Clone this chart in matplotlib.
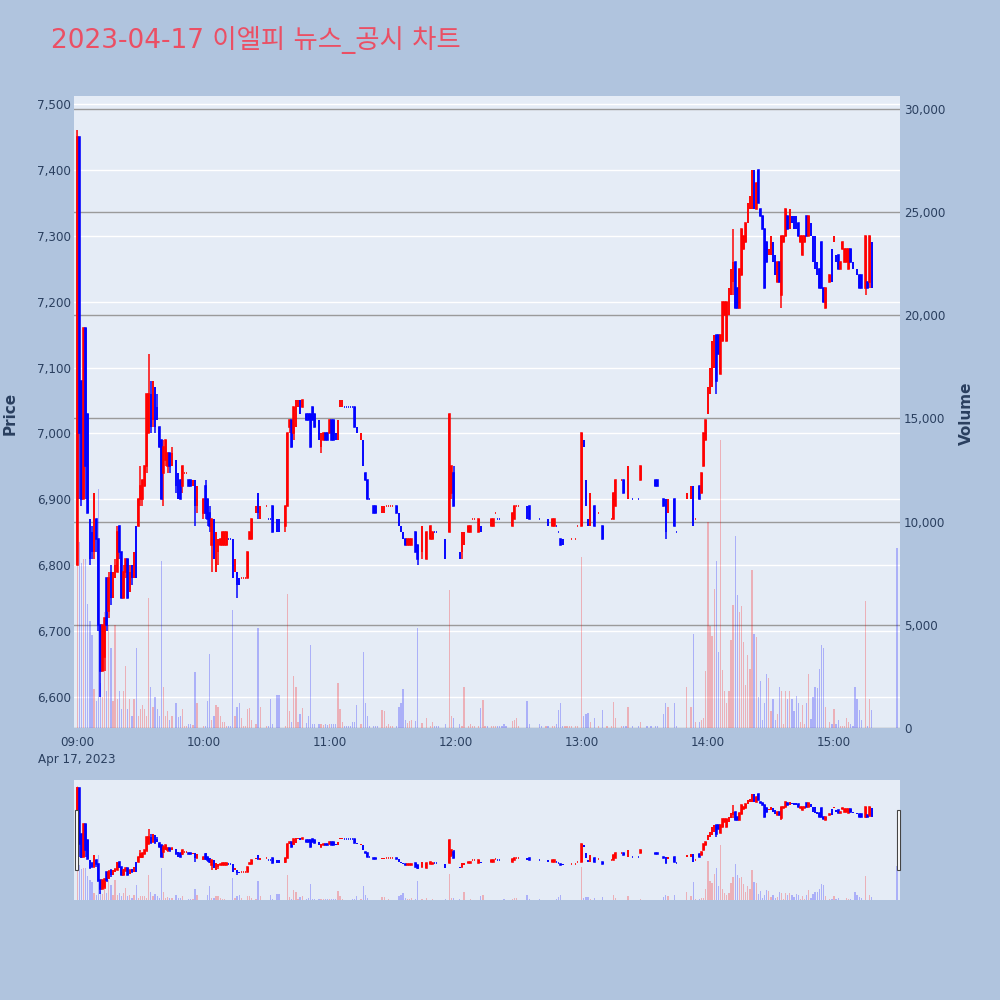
"""Intraday 1-minute candles + volume for 이엘피 on 2023-04-17, plotly-like look."""

import matplotlib
matplotlib.use("Agg")
import matplotlib.pyplot as plt  # noqa: E402
from matplotlib.patches import Rectangle  # noqa: E402
from matplotlib.ticker import FuncFormatter  # noqa: E402

TITLE = "2023-04-17 이엘피 뉴스_공시 차트"

# minutes after 09:00 that had trades
MINUTE = [
    0, 1, 2, 3, 4, 5, 6, 7, 8, 9,
    10, 11, 12, 13, 14, 15, 16, 17, 18, 19,
    20, 21, 22, 23, 24, 25, 26, 27, 28, 29,
    30, 31, 32, 33, 34, 35, 36, 37, 38, 39,
    40, 41, 42, 43, 44, 45, 47, 48, 49,
    50, 51, 52, 53, 54, 55, 56, 57,
    60, 61, 62, 63, 64, 65, 66, 67, 68, 69,
    70, 71, 72, 73, 74, 75, 76, 77, 78, 79,
    80, 81, 82, 83, 85, 86, 87,
    90, 91, 92, 93, 95, 96, 99,
    100, 101, 102, 103, 104, 105, 106, 107,
    109, 110, 111, 112, 113, 115, 116, 117, 118, 119,
    120, 121, 122, 123, 124, 125, 126, 127, 128, 129,
    130, 131, 132, 133, 135, 136, 137, 138, 139,
    141, 142, 143, 145, 146, 147, 148, 149, 150,
    152, 153, 154, 155, 156, 157, 158, 159,
    161, 162, 164, 166, 168, 169, 170, 171, 172,
    175, 177, 178, 179, 182, 183, 184, 186, 187, 188, 189,
    191, 192, 193, 194, 195, 197, 198, 199,
    200, 201, 202, 203, 204, 207, 208, 209, 210,
    214, 215, 220, 221, 223, 224, 226, 227, 228, 229,
    230, 231, 232, 233, 234, 235, 237, 238,
    240, 241, 242, 243, 244, 246, 248,
    250, 252, 254, 255, 256, 259,
    260, 261, 262, 264, 267, 268,
    271, 273, 275, 276, 279, 280, 281, 284, 285,
    290, 292, 293, 294, 296, 297,
    298, 299, 300, 301, 302, 303, 304, 305, 306, 307, 308, 309,
    310, 311, 312, 313, 314, 315, 316, 317, 318, 319,
    320, 321, 322, 323, 324, 325, 326, 327, 328, 329,
    330, 331, 332, 333, 334, 335, 336, 337, 338, 339,
    340, 341, 342, 343, 344, 345, 346, 347, 348, 349,
    350, 351, 352, 353, 354, 355, 356, 358, 359,
    360, 361, 362, 363, 364, 365, 366, 367, 368, 369,
    370, 371, 372, 373, 375, 376, 377, 378, 390,
]

OPEN = [
    6800, 7450, 7080, 6900, 7160, 7030, 6870, 6850, 6820, 6870,
    6840, 6710, 6640, 6660, 6780, 6730, 6790, 6750, 6780, 6790,
    6860, 6820, 6750, 6790, 6810, 6760, 6800, 6780, 6860, 6860,
    6900, 6900, 6920, 6950, 7000, 7060, 7020, 7070, 7040, 7010,
    6990, 6940, 6960, 6950, 6970, 6950, 6960, 6940, 6930,
    6920, 6940, 6940, 6930, 6930, 6920, 6930, 6890,
    6880, 6920, 6900, 6880, 6830, 6870, 6790, 6820, 6830, 6830,
    6830, 6830, 6840, 6840, 6840, 6790, 6790, 6780, 6780, 6780,
    6780, 6780, 6840, 6840, 6880, 6910, 6870,
    6890, 6870, 6870, 6890, 6870, 6870, 6860,
    6890, 7010, 7020, 7000, 7010, 7040, 7050, 7040,
    7030, 7030, 7030, 7040, 7030, 7020, 6980, 6990, 7000, 7000,
    7000, 7020, 7020, 7000, 6990, 7040, 7040, 7040, 7040, 7040,
    7040, 7040, 7040, 7010, 6990, 6990, 6940, 6930, 6900,
    6890, 6890, 6870, 6880, 6880, 6890, 6890, 6890, 6890,
    6890, 6880, 6860, 6850, 6840, 6830, 6830, 6830,
    6850, 6830, 6820, 6810, 6840, 6840, 6850, 6850, 6850,
    6840, 6850, 6910, 6940, 6820, 6820, 6830, 6850, 6850, 6870, 6870,
    6850, 6860, 6870, 6870, 6850, 6860, 6860, 6880,
    6870, 6870, 6870, 6870, 6870, 6860, 6870, 6890, 6890,
    6890, 6890, 6870, 6860, 6870, 6870, 6860, 6860, 6860, 6850,
    6840, 6840, 6840, 6840, 6840, 6840, 6840, 6860,
    6860, 6990, 6930, 6870, 6860, 6890, 6880,
    6860, 6850, 6870, 6870, 6890, 6930,
    6930, 6900, 6900, 6900, 6900, 6930,
    6940, 6930, 6930, 6930, 6900, 6900, 6880, 6900, 6850,
    6900, 6900, 6920, 6870, 6920, 6910,
    6950, 6990, 7030, 7060, 7070, 7100, 7150, 7150, 7090, 7140, 7180, 7140,
    7180, 7210, 7230, 7260, 7220, 7190, 7240, 7280, 7290, 7320,
    7340, 7340, 7400, 7340, 7400, 7340, 7330, 7310, 7290, 7270,
    7270, 7290, 7270, 7230, 7260, 7210, 7290, 7300, 7330, 7310,
    7330, 7330, 7330, 7320, 7290, 7270, 7290, 7330, 7300, 7320,
    7300, 7300, 7260, 7250, 7290, 7220, 7190, 7230, 7280,
    7290, 7270, 7270, 7250, 7280, 7260, 7260, 7250, 7280, 7260,
    7250, 7250, 7240, 7240, 7220, 7230, 7230, 7290, 7220,
]

HIGH = [
    7460, 7450, 7080, 7160, 7160, 7030, 6870, 6860, 6910, 6870,
    6840, 6710, 6710, 6720, 6780, 6790, 6800, 6790, 6810, 6860,
    6860, 6820, 6800, 6810, 6810, 6800, 6800, 6820, 6860, 6900,
    6950, 6930, 6950, 7060, 7120, 7080, 7080, 7070, 7060, 7010,
    6990, 6990, 6990, 6970, 6970, 6980, 6960, 6940, 6930,
    6950, 6940, 6940, 6930, 6930, 6930, 6930, 6920,
    6900, 6930, 6900, 6890, 6870, 6870, 6850, 6840, 6840, 6850,
    6850, 6850, 6840, 6840, 6840, 6810, 6790, 6780, 6780, 6780,
    6780, 6820, 6850, 6870, 6890, 6910, 6890,
    6890, 6870, 6870, 6890, 6870, 6870, 6890,
    7000, 7020, 7020, 7040, 7050, 7050, 7050, 7050,
    7030, 7030, 7030, 7040, 7030, 7020, 7000, 7000, 7000, 7000,
    7020, 7020, 7020, 7000, 7020, 7050, 7050, 7040, 7040, 7040,
    7040, 7040, 7040, 7010, 7000, 6990, 6940, 6930, 6900,
    6890, 6890, 6870, 6890, 6890, 6890, 6890, 6890, 6890,
    6890, 6880, 6860, 6850, 6840, 6840, 6840, 6840,
    6850, 6830, 6860, 6850, 6860, 6850, 6850, 6850, 6850,
    6840, 7030, 6950, 6950, 6820, 6850, 6850, 6860, 6860, 6870, 6870,
    6870, 6860, 6870, 6870, 6850, 6870, 6870, 6880,
    6870, 6870, 6870, 6870, 6870, 6880, 6890, 6890, 6890,
    6890, 6890, 6870, 6860, 6870, 6870, 6870, 6870, 6860, 6850,
    6840, 6840, 6840, 6840, 6840, 6840, 6840, 6860,
    7000, 6990, 6930, 6870, 6910, 6890, 6880,
    6860, 6850, 6870, 6910, 6930, 6930,
    6930, 6900, 6950, 6900, 6900, 6950,
    6940, 6930, 6930, 6930, 6900, 6900, 6900, 6900, 6850,
    6910, 6920, 6920, 6870, 6920, 6940,
    7000, 7020, 7070, 7100, 7140, 7150, 7150, 7150, 7150, 7200, 7200, 7200,
    7220, 7250, 7310, 7260, 7220, 7250, 7310, 7300, 7320, 7350,
    7360, 7400, 7400, 7380, 7400, 7340, 7330, 7310, 7290, 7280,
    7300, 7290, 7270, 7260, 7260, 7300, 7300, 7340, 7330, 7340,
    7330, 7330, 7330, 7320, 7300, 7300, 7300, 7330, 7330, 7320,
    7300, 7300, 7260, 7250, 7290, 7220, 7220, 7240, 7280,
    7300, 7270, 7270, 7260, 7290, 7280, 7280, 7280, 7280, 7260,
    7250, 7250, 7240, 7240, 7300, 7230, 7300, 7290, 7220,
]

LOW = [
    6800, 6900, 6890, 6900, 6900, 6880, 6800, 6810, 6810, 6820,
    6700, 6600, 6640, 6640, 6700, 6720, 6740, 6750, 6780, 6790,
    6810, 6750, 6750, 6780, 6750, 6760, 6770, 6780, 6780, 6860,
    6890, 6890, 6920, 6940, 7000, 7000, 7010, 7000, 7020, 6980,
    6900, 6890, 6950, 6940, 6940, 6950, 6910, 6900, 6900,
    6910, 6940, 6940, 6920, 6920, 6920, 6860, 6880,
    6870, 6870, 6860, 6850, 6790, 6810, 6790, 6800, 6830, 6830,
    6830, 6830, 6840, 6840, 6780, 6790, 6750, 6770, 6780, 6780,
    6780, 6780, 6840, 6840, 6880, 6870, 6870,
    6890, 6870, 6870, 6850, 6850, 6850, 6850,
    6890, 7000, 6980, 6990, 7010, 7040, 7030, 7040,
    7020, 7020, 6980, 7020, 7010, 6990, 6970, 6990, 6990, 6990,
    7000, 6990, 6990, 6990, 6990, 7040, 7040, 7040, 7040, 7040,
    7040, 7040, 7010, 7000, 6990, 6950, 6930, 6900, 6900,
    6880, 6880, 6870, 6880, 6880, 6890, 6890, 6890, 6890,
    6880, 6860, 6850, 6840, 6830, 6830, 6830, 6830,
    6820, 6800, 6810, 6810, 6840, 6840, 6850, 6850, 6850,
    6810, 6850, 6900, 6890, 6810, 6810, 6830, 6850, 6850, 6870, 6870,
    6850, 6850, 6870, 6870, 6850, 6860, 6860, 6880,
    6870, 6870, 6870, 6870, 6870, 6860, 6870, 6890, 6890,
    6870, 6870, 6870, 6860, 6870, 6860, 6860, 6860, 6860, 6850,
    6830, 6830, 6840, 6840, 6840, 6840, 6840, 6860,
    6860, 6980, 6890, 6860, 6860, 6860, 6880,
    6840, 6850, 6870, 6870, 6890, 6930,
    6910, 6900, 6900, 6900, 6900, 6930,
    6940, 6930, 6920, 6920, 6890, 6840, 6880, 6860, 6850,
    6900, 6900, 6860, 6870, 6900, 6910,
    6950, 6990, 7030, 7060, 7070, 7100, 7060, 7120, 7090, 7140, 7180, 7140,
    7180, 7210, 7210, 7190, 7190, 7190, 7240, 7280, 7290, 7320,
    7340, 7340, 7340, 7340, 7350, 7330, 7310, 7220, 7260, 7270,
    7270, 7260, 7240, 7230, 7230, 7190, 7290, 7300, 7310, 7310,
    7320, 7310, 7310, 7300, 7290, 7270, 7290, 7300, 7300, 7300,
    7260, 7250, 7240, 7220, 7220, 7200, 7190, 7230, 7230,
    7290, 7260, 7250, 7250, 7280, 7260, 7260, 7250, 7260, 7250,
    7250, 7240, 7220, 7220, 7210, 7220, 7220, 7220, 7220,
]

CLOSE = [
    7450, 7000, 6900, 7160, 6950, 6880, 6810, 6820, 6910, 6840,
    6710, 6640, 6710, 6720, 6710, 6780, 6750, 6790, 6800, 6850,
    6820, 6750, 6790, 6810, 6750, 6790, 6780, 6820, 6780, 6900,
    6920, 6930, 6950, 7060, 7060, 7010, 7080, 7010, 7020, 6980,
    6900, 6980, 6990, 6970, 6950, 6970, 6920, 6900, 6900,
    6950, 6940, 6940, 6920, 6920, 6930, 6890, 6920,
    6900, 6880, 6870, 6860, 6870, 6810, 6850, 6840, 6840, 6850,
    6850, 6850, 6840, 6840, 6780, 6810, 6770, 6770, 6780, 6780,
    6780, 6820, 6850, 6870, 6890, 6880, 6890,
    6890, 6870, 6870, 6850, 6850, 6850, 6890,
    7000, 7020, 6980, 7040, 7050, 7050, 7030, 7050,
    7020, 7020, 6980, 7020, 7010, 6990, 7000, 7000, 6990, 6990,
    7020, 6990, 6990, 6990, 7020, 7050, 7050, 7040, 7040, 7040,
    7040, 7040, 7010, 7000, 7000, 6950, 6930, 6900, 6900,
    6880, 6880, 6870, 6890, 6890, 6890, 6890, 6890, 6890,
    6880, 6860, 6850, 6840, 6830, 6840, 6840, 6840,
    6820, 6810, 6860, 6850, 6860, 6850, 6850, 6850, 6850,
    6810, 7030, 6950, 6890, 6810, 6850, 6850, 6860, 6860, 6870, 6870,
    6870, 6850, 6870, 6870, 6850, 6870, 6870, 6880,
    6870, 6870, 6870, 6870, 6870, 6880, 6890, 6890, 6890,
    6870, 6870, 6870, 6860, 6870, 6860, 6870, 6870, 6860, 6850,
    6830, 6830, 6840, 6840, 6840, 6840, 6840, 6860,
    7000, 6980, 6890, 6860, 6910, 6860, 6880,
    6840, 6850, 6870, 6910, 6930, 6930,
    6910, 6900, 6950, 6900, 6900, 6950,
    6940, 6930, 6920, 6920, 6890, 6850, 6900, 6860, 6850,
    6910, 6920, 6860, 6870, 6900, 6940,
    7000, 7020, 7070, 7100, 7140, 7150, 7080, 7120, 7150, 7200, 7200, 7200,
    7220, 7250, 7260, 7190, 7190, 7250, 7310, 7300, 7320, 7350,
    7360, 7400, 7340, 7380, 7350, 7330, 7310, 7220, 7260, 7280,
    7300, 7260, 7240, 7260, 7230, 7300, 7300, 7340, 7310, 7340,
    7320, 7310, 7310, 7300, 7300, 7300, 7300, 7300, 7330, 7300,
    7260, 7250, 7240, 7220, 7220, 7200, 7220, 7240, 7230,
    7300, 7260, 7250, 7260, 7290, 7280, 7280, 7280, 7260, 7250,
    7250, 7240, 7220, 7220, 7300, 7220, 7300, 7220, 7220,
]

# 1 = rising candle (red), 0 = falling candle (blue)
UP = [
    1, 0, 0, 1, 0, 0, 0, 0, 1, 0,
    0, 0, 1, 1, 0, 1, 0, 1, 1, 1,
    0, 0, 1, 1, 0, 1, 0, 1, 0, 1,
    1, 1, 1, 1, 1, 0, 1, 0, 0, 0,
    0, 1, 1, 1, 0, 1, 0, 0, 0,
    1, 1, 1, 0, 0, 1, 0, 1,
    1, 0, 0, 0, 1, 0, 1, 1, 1, 1,
    1, 1, 0, 0, 0, 1, 0, 0, 1, 1,
    1, 1, 1, 1, 1, 0, 1,
    1, 0, 0, 0, 0, 0, 1,
    1, 1, 0, 1, 1, 1, 0, 1,
    0, 0, 0, 0, 0, 0, 1, 1, 0, 0,
    1, 0, 0, 0, 1, 1, 1, 0, 0, 0,
    0, 0, 0, 0, 1, 0, 0, 0, 0,
    0, 0, 0, 1, 1, 1, 1, 1, 1,
    0, 0, 0, 0, 0, 1, 1, 1,
    0, 0, 1, 1, 1, 1, 0, 0, 0,
    0, 1, 1, 0, 0, 1, 1, 1, 1, 1, 1,
    1, 0, 1, 1, 0, 1, 1, 1,
    0, 0, 0, 0, 0, 1, 1, 1, 1,
    0, 0, 0, 0, 1, 0, 1, 1, 0, 0,
    0, 0, 1, 1, 1, 1, 1, 1,
    1, 0, 0, 0, 1, 0, 1,
    0, 1, 1, 1, 1, 1,
    0, 0, 1, 0, 0, 1,
    0, 0, 0, 0, 0, 0, 1, 0, 0,
    1, 1, 0, 1, 0, 1,
    1, 1, 1, 1, 1, 1, 0, 0, 1, 1, 1, 1,
    1, 1, 1, 0, 0, 1, 1, 1, 1, 1,
    1, 1, 0, 1, 0, 0, 0, 0, 0, 1,
    1, 0, 0, 1, 0, 1, 1, 1, 0, 1,
    0, 0, 0, 0, 1, 1, 1, 0, 1, 0,
    0, 0, 0, 0, 0, 0, 1, 1, 0,
    1, 0, 0, 1, 1, 1, 1, 1, 0, 0,
    0, 0, 0, 0, 1, 0, 1, 0, 0,
]

VOLUME = [
    29000, 9000, 8000, 8200, 8200, 6000, 5200, 4500, 1900, 1300,
    11600, 2200, 1500, 5600, 1800, 5000, 3900, 1300, 5000, 1400,
    1800, 900, 1800, 3000, 900, 1400, 600, 1400, 3900, 600,
    900, 1100, 900, 600, 6300, 2000, 1000, 1500, 900, 600,
    8100, 2000, 600, 800, 400, 600, 1200, 550, 600,
    900, 100, 100, 200, 200, 150, 2700, 1200,
    100, 100, 1300, 3600, 400, 600, 1100, 1000, 600, 300,
    300, 100, 100, 100, 5700, 600, 1000, 1200, 500, 100,
    100, 900, 950, 400, 200, 4850, 1000,
    100, 100, 1400, 200, 1600, 1600, 100,
    6500, 800, 300, 2500, 2000, 300, 700, 950,
    250, 600, 4000, 200, 200, 200, 200, 150, 200, 150,
    200, 200, 200, 200, 2200, 900, 300, 100, 100, 100,
    100, 300, 300, 1100, 200, 3700, 1200, 600, 100,
    100, 100, 100, 850, 800, 100, 200, 100, 100,
    100, 1000, 1200, 1900, 400, 250, 350, 400,
    350, 4850, 250, 500, 100, 300, 100, 100, 100,
    200, 6700, 600, 500, 200, 100, 2000, 100, 200, 100, 100,
    100, 950, 1350, 100, 100, 100, 100, 100,
    100, 100, 100, 200, 100, 350, 400, 500, 100,
    1330, 200, 200, 100, 100, 100, 100, 100, 200, 850,
    1200, 100, 100, 100, 100, 100, 100, 100,
    8300, 600, 700, 750, 300, 500, 100,
    850, 100, 100, 1250, 500, 100,
    100, 100, 1000, 100, 100, 300,
    100, 100, 100, 100, 700, 1230, 1000, 1200, 100,
    1980, 1000, 4550, 300, 300, 400,
    500, 2770, 9990, 4950, 4450, 6760, 8070, 3660, 13940, 2800, 1780, 1200,
    1800, 4250, 5970, 9300, 6430, 5640, 5930, 4150, 2080, 3520,
    2870, 7670, 4550, 4390, 1500, 2270, 400, 1200, 2610, 2400,
    800, 1400, 400, 700, 1980, 1800, 200, 1800, 1400, 1800,
    1400, 800, 1550, 1200, 300, 1100, 200, 1200, 2610, 450,
    1500, 2000, 1950, 2870, 4000, 3860, 1000, 300, 200,
    900, 200, 400, 100, 100, 100, 500, 300, 200, 100,
    2000, 1400, 850, 400, 6170, 100, 1400, 850, 8700,
]

TIME_TICKS = [0, 60, 120, 180, 240, 300, 360]
TIME_LABELS = ["09:00\nApr 17, 2023", "10:00", "11:00", "12:00", "13:00", "14:00", "15:00"]
PRICE_TICKS = [6600, 6700, 6800, 6900, 7000, 7100, 7200, 7300, 7400, 7500]
VOLUME_TICKS = [0, 5000, 10000, 15000, 20000, 25000, 30000]

assert len({len(MINUTE), len(OPEN), len(HIGH), len(LOW), len(CLOSE), len(UP), len(VOLUME)}) == 1

PAGE_BG = "#B0C4DE"
PLOT_BG = "#E5ECF6"
RED, BLUE = "#FF0000", "#0000FF"
TEXT = "#2a3f5f"
FONT = ["DejaVu Sans", "Noto Sans CJK KR"]
XLIM = (-1.8, 391.4)
PRICE_LIM = (6553, 7512)
VOL_LIM = (0, 30630)
PX = 0.72  # one pixel in points at dpi 100

plt.rcParams["font.family"] = FONT


def draw_volume(ax):
    cols = [(1, 0, 0, 0.25) if u else (0, 0, 1, 0.25) for u in UP]
    ax.bar(MINUTE, VOLUME, width=0.6, color=cols, linewidth=0, zorder=2)


def draw_candles(ax):
    cols = [RED if u else BLUE for u in UP]
    ax.vlines(MINUTE, LOW, HIGH, colors=cols, lw=1.5 * PX, zorder=3)
    bottoms = [min(o, c) for o, c in zip(OPEN, CLOSE)]
    heights = [abs(c - o) for o, c in zip(OPEN, CLOSE)]
    ax.bar(MINUTE, heights, bottom=bottoms, width=0.3, color=cols,
           edgecolor=cols, linewidth=1.6 * PX, zorder=4)


def layered_axes(fig, rect):
    """volume axes underneath (with background), price axes on top (transparent)"""
    ax_v = fig.add_axes(rect, facecolor=PLOT_BG, zorder=1)
    ax_p = fig.add_axes(rect, zorder=2)
    ax_p.patch.set_visible(False)
    for a in (ax_v, ax_p):
        for s in a.spines.values():
            s.set_visible(False)
        a.set_xlim(*XLIM)
    return ax_v, ax_p


fig = plt.figure(figsize=(10, 10), dpi=100, facecolor=PAGE_BG)

# ---- main chart
ax_v, ax_p = layered_axes(fig, [0.0735, 0.272, 0.8265, 0.632])
draw_volume(ax_v)
draw_candles(ax_p)
ax_p.set_ylim(*PRICE_LIM)
ax_v.set_ylim(*VOL_LIM)

# white price grid drawn under the volume bars, gray volume grid
for p in PRICE_TICKS:
    ax_v.plot([0, 1], [p, p], transform=ax_p.get_yaxis_transform(),
              color="white", lw=1.0, zorder=0.6)
ax_v.set_yticks(VOLUME_TICKS)
ax_v.set_axisbelow(True)
ax_v.grid(axis="y", color="#9a9a9a", lw=1.0)
ax_v.yaxis.tick_right()
ax_v.yaxis.set_major_formatter(FuncFormatter(lambda v, _: f"{v:,.0f}"))
ax_v.tick_params(axis="y", length=0, pad=3, labelsize=8.6, labelcolor=TEXT)
ax_v.tick_params(axis="x", bottom=False, labelbottom=False)

ax_p.set_yticks(PRICE_TICKS)
ax_p.yaxis.set_major_formatter(FuncFormatter(lambda v, _: f"{v:,.0f}"))
ax_p.tick_params(axis="y", length=0, pad=2, labelsize=8.6, labelcolor=TEXT)
ax_p.set_xticks(TIME_TICKS, TIME_LABELS)
ax_p.tick_params(axis="x", length=0, pad=6, labelsize=8.6, labelcolor=TEXT)
for lab in ax_p.get_xticklabels():
    lab.set_linespacing(1.35)

# ---- range slider
sl_v, sl_p = layered_axes(fig, [0.0735, 0.100, 0.8265, 0.120])
draw_volume(sl_v)
draw_candles(sl_p)
sl_p.set_ylim(*PRICE_LIM)
sl_v.set_ylim(*VOL_LIM)
for a in (sl_v, sl_p):
    a.set_xticks([])
    a.set_yticks([])
for x0 in (0.0745, 0.8965):
    fig.add_artist(Rectangle((x0, 0.130), 0.0035, 0.060, transform=fig.transFigure,
                             facecolor="white", edgecolor="#444444", lw=0.8, zorder=5))

# ---- texts
fig.text(0.051, 0.960, TITLE, fontsize=19, color="#EB4F64", va="center", ha="left")
fig.text(0.010, 0.587, "Price", rotation=90, fontsize=11, fontweight="bold",
         color=TEXT, ha="center", va="center")
fig.text(0.966, 0.587, "Volume", rotation=90, fontsize=11, fontweight="bold",
         color=TEXT, ha="center", va="center")

fig.savefig("out.png", dpi=100, facecolor=PAGE_BG)
